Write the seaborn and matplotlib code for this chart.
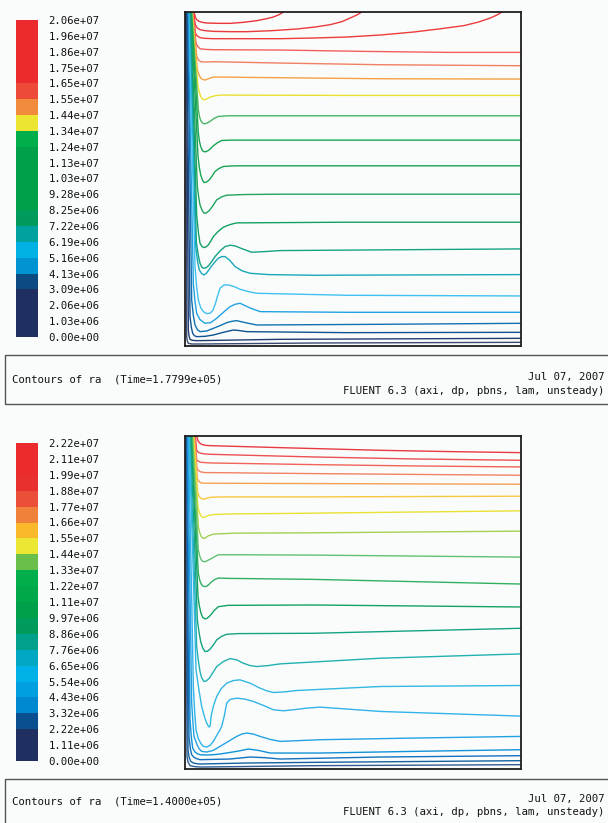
import numpy as np
import pandas as pd
import matplotlib
matplotlib.use("Agg")
import matplotlib.pyplot as plt
from matplotlib.colors import ListedColormap
from matplotlib.patches import Rectangle
import seaborn as sns

sns.set_theme(style="white")
plt.rcParams['font.family'] = ['DejaVu Sans Mono']

# ---------------- data: panel 1 (Time=1.7799e+05) ----------------
p1_labels = ["2.06e+07", "1.96e+07", "1.86e+07", "1.75e+07", "1.65e+07", "1.55e+07",
             "1.44e+07", "1.34e+07", "1.24e+07", "1.13e+07", "1.03e+07", "9.28e+06",
             "8.25e+06", "7.22e+06", "6.19e+06", "5.16e+06", "4.13e+06", "3.09e+06",
             "2.06e+06", "1.03e+06", "0.00e+00"]
p1_band_colors = ["#ec2b2f", "#ec2b2f", "#ec2b2f", "#ec2b2f", "#ee4a3a", "#f28a3c",
                  "#ece633", "#00ae4c", "#009f4a", "#009f4a", "#009f4a", "#009f4a",
                  "#009a5c", "#00a19e", "#00b1e3", "#0093d2", "#0b4b82", "#1f2f5f",
                  "#1f2f5f", "#1f2f5f"]
p1_line_colors = ["#e8343a", "#ea3a3c", "#ec3c3c", "#f0605a", "#f08062", "#f4a044",
                  "#e8e030", "#48b464", "#18a454", "#18a454", "#20a460", "#12a062",
                  "#14a284", "#18a8b8", "#40c0f0", "#22a2e2", "#1072b2", "#105292",
                  "#203c72", "#3a4a72"]
# radius (0..1007) and depth from top (0..1001) of each contour line
p1_r = [
    [27, 29, 31, 35, 42, 52, 65, 100, 135, 175, 215, 245, 265, 282, 295],
    [26, 28, 31, 36, 45, 60, 85, 135, 185, 260, 335, 390, 435, 470, 495, 515, 530],
    [25, 28, 31, 36, 45, 60, 85, 185, 285, 385, 485, 585, 685, 760, 835, 880, 915, 935, 950],
    [24, 29, 33, 38, 45, 60, 85, 285, 535, 785, 1007],
    [23, 30, 35, 40, 47, 60, 85, 285, 585, 1007],
    [22, 30, 37, 41, 47, 53, 60, 70, 85, 120, 185, 585, 1007],
    [21, 30, 39, 43, 47, 51, 55, 62, 75, 90, 105, 485, 1007],
    [20, 31, 40, 43, 47, 52, 57, 64, 75, 87, 100, 130, 185, 1007],
    [19, 30, 40, 43, 47, 51, 55, 62, 70, 77, 85, 97, 110, 140, 185, 1007],
    [18, 29, 39, 43, 47, 52, 57, 64, 73, 81, 90, 102, 115, 150, 235, 1007],
    [17, 27, 37, 41, 45, 51, 57, 64, 73, 84, 95, 110, 125, 180, 285, 1007],
    [16, 26, 35, 40, 45, 51, 57, 63, 70, 77, 85, 100, 115, 135, 155, 485, 1007],
    [15, 25, 34, 40, 45, 50, 55, 62, 70, 80, 90, 105, 120, 135, 150, 175, 200, 240, 285, 1007],
    [13, 23, 32, 38, 43, 50, 57, 65, 75, 87, 100, 110, 120, 135, 150, 172, 195, 250, 385, 1007],
    [11, 21, 30, 35, 40, 47, 55, 65, 75, 83, 90, 97, 105, 117, 130, 147, 165, 190, 215, 485, 1007],
    [9, 17, 25, 30, 35, 45, 60, 77, 95, 115, 135, 150, 165, 195, 225, 485, 1007],
    [7, 14, 20, 25, 30, 37, 45, 65, 85, 105, 125, 140, 155, 185, 215, 585, 1007],
    [5, 10, 15, 19, 23, 28, 35, 60, 85, 115, 145, 165, 185, 485, 1007],
    [3, 7, 10, 12, 15, 22, 35, 285, 1007],
    [2, 4, 5, 7, 10, 20, 45, 385, 1007],
]
p1_depth = [
    [0, 8, 16, 23, 28, 31, 33, 34, 34, 31, 26, 20, 15, 8, 0],
    [0, 20, 38, 47, 53, 56, 58, 59, 59, 56, 51, 45, 38, 29, 18, 9, 0],
    [0, 35, 63, 71, 77, 79, 80, 80, 80, 78, 75, 69, 60, 51, 41, 30, 18, 9, 0],
    [0, 50, 93, 103, 110, 112, 113, 114, 118, 121, 121],
    [0, 75, 133, 143, 149, 150, 149, 153, 158, 161],
    [0, 95, 173, 186, 198, 202, 204, 200, 195, 195, 196, 200, 201],
    [0, 120, 223, 240, 253, 259, 263, 262, 255, 251, 249, 250, 250],
    [0, 160, 293, 312, 325, 332, 335, 334, 328, 319, 313, 311, 311, 311],
    [0, 190, 363, 386, 403, 413, 418, 419, 415, 409, 401, 392, 385, 384, 384, 384],
    [0, 230, 433, 466, 488, 503, 511, 510, 503, 492, 478, 469, 463, 461, 461, 461],
    [0, 270, 523, 555, 578, 594, 603, 602, 595, 580, 563, 554, 549, 547, 546, 546],
    [0, 320, 610, 660, 693, 703, 706, 704, 698, 687, 673, 657, 645, 637, 632, 630, 630],
    [0, 360, 690, 730, 753, 764, 768, 767, 761, 748, 733, 716, 703, 699, 701, 711, 720, 718, 715, 710],
    [0, 360, 703, 750, 773, 784, 788, 782, 768, 752, 738, 733, 733, 745, 763, 776, 783, 787, 789, 787],
    [0, 390, 763, 825, 863, 886, 898, 904, 903, 895, 878, 853, 828, 818, 818, 823, 831, 838, 843, 849, 851],
    [0, 410, 813, 868, 903, 922, 933, 931, 918, 900, 883, 876, 873, 887, 898, 900, 900],
    [0, 430, 863, 910, 938, 952, 958, 956, 948, 940, 931, 927, 925, 932, 938, 936, 933],
    [0, 460, 913, 945, 963, 970, 973, 972, 968, 960, 953, 955, 958, 961, 960],
    [0, 480, 953, 970, 981, 984, 985, 981, 978],
    [0, 490, 973, 986, 993, 995, 995, 992, 990],
]
p1_caption = "Contours of ra  (Time=1.7799e+05)"

# ---------------- data: panel 2 (Time=1.4000e+05) ----------------
p2_labels = ["2.22e+07", "2.11e+07", "1.99e+07", "1.88e+07", "1.77e+07", "1.66e+07",
             "1.55e+07", "1.44e+07", "1.33e+07", "1.22e+07", "1.11e+07", "9.97e+06",
             "8.86e+06", "7.76e+06", "6.65e+06", "5.54e+06", "4.43e+06", "3.32e+06",
             "2.22e+06", "1.11e+06", "0.00e+00"]
p2_band_colors = ["#ec2b2f", "#ec2b2f", "#e8302f", "#ec4f39", "#f0813b", "#f9b92b",
                  "#ece733", "#6abf4b", "#00ae4c", "#00a84a", "#00a04a", "#009a5c",
                  "#00a08c", "#00a8c4", "#00b1e8", "#00a0e0", "#0088d0", "#0a5090",
                  "#1f2f5f", "#1f2f5f"]
p2_line_colors = ["#e83a40", "#ec5052", "#f0625a", "#f08262", "#f4a052", "#f8c842",
                  "#e8e232", "#a2d052", "#62c072", "#32b062", "#14a262", "#14a284",
                  "#22b0b2", "#32b8e2", "#32b2ea", "#22a2e2", "#1292d8", "#1272c0",
                  "#1262a2", "#325c92"]
p2_r = [
    [35, 37, 39, 44, 50, 60, 75, 180, 285, 435, 585, 800, 1007],
    [31, 33, 35, 40, 47, 60, 75, 230, 385, 535, 685, 1007],
    [29, 32, 35, 40, 47, 60, 75, 385, 685, 1007],
    [28, 32, 36, 41, 47, 60, 75, 385, 1007],
    [27, 32, 37, 42, 47, 60, 75, 385, 1007],
    [26, 32, 38, 41, 45, 49, 53, 60, 68, 80, 120, 385, 1007],
    [25, 32, 39, 43, 47, 51, 55, 62, 70, 85, 150, 285, 1007],
    [23, 32, 40, 44, 48, 52, 57, 63, 70, 85, 150, 385, 1007],
    [22, 31, 40, 44, 48, 52, 57, 63, 70, 80, 90, 100, 150, 385, 1007],
    [20, 30, 40, 44, 49, 54, 60, 66, 73, 80, 90, 100, 130, 385, 1007],
    [18, 29, 39, 43, 48, 53, 60, 66, 72, 77, 88, 100, 130, 385, 1007],
    [16, 27, 37, 42, 47, 53, 60, 67, 75, 85, 95, 110, 125, 160, 385, 1007],
    [14, 25, 35, 40, 45, 50, 57, 64, 73, 83, 95, 115, 135, 155, 175, 195, 215, 250, 285, 585, 1007],
    [12, 23, 33, 42, 50, 58, 65, 70, 73, 76, 78, 85, 95, 108, 125, 145, 165, 195, 225, 245, 265,
     300, 335, 585, 1007],
    [10, 18, 25, 29, 33, 40, 48, 55, 65, 75, 85, 95, 103, 110, 118, 125, 135, 155, 180, 205, 235,
     265, 295, 325, 365, 405, 585, 1007],
    [8, 14, 20, 24, 27, 35, 42, 50, 65, 85, 105, 130, 155, 170, 185, 205, 225, 255, 285, 405, 685, 1007],
    [6, 11, 15, 19, 23, 30, 37, 45, 65, 85, 105, 130, 155, 175, 190, 220, 255, 405, 685, 1007],
    [4, 8, 12, 16, 20, 27, 35, 45, 90, 135, 165, 195, 240, 285, 585, 1007],
    [3, 6, 9, 12, 17, 25, 35, 45, 185, 385, 1007],
    [2, 4, 6, 9, 15, 30, 45, 65, 385, 1007],
]
p2_depth = [
    [0, 8, 15, 21, 25, 28, 29, 32, 35, 39, 43, 47, 50],
    [0, 22, 43, 49, 52, 54, 55, 59, 63, 66, 69, 73],
    [0, 36, 71, 76, 79, 80, 81, 86, 90, 93],
    [0, 50, 98, 104, 108, 110, 110, 113, 118],
    [0, 65, 128, 136, 141, 142, 142, 143, 145],
    [0, 85, 168, 178, 185, 188, 190, 189, 186, 184, 183, 183, 181],
    [0, 110, 215, 229, 238, 243, 245, 243, 239, 236, 234, 233, 225],
    [0, 140, 273, 290, 301, 306, 308, 305, 300, 295, 292, 291, 286],
    [0, 170, 343, 360, 371, 376, 378, 377, 373, 368, 362, 357, 357, 358, 364],
    [0, 210, 413, 433, 446, 451, 453, 451, 445, 438, 431, 427, 428, 431, 445],
    [0, 240, 483, 511, 533, 545, 550, 548, 543, 538, 524, 513, 509, 508, 514],
    [0, 280, 553, 590, 618, 637, 648, 647, 641, 628, 613, 602, 596, 594, 593, 578],
    [0, 320, 633, 675, 708, 727, 738, 736, 728, 712, 693, 678, 669, 673, 683, 690, 693, 690, 685, 668, 655],
    [0, 350, 703, 765, 813, 843, 863, 872, 875, 868, 843, 812, 783, 760, 743, 735, 733, 743, 758, 766, 771,
     769, 765, 753, 750],
    [0, 380, 753, 830, 883, 910, 925, 933, 935, 930, 918, 900, 887, 873, 840, 803, 792, 788, 791, 798, 810,
     823, 826, 823, 818, 815, 828, 842],
    [0, 400, 803, 865, 903, 925, 940, 948, 950, 945, 933, 918, 903, 896, 893, 896, 903, 912, 918, 913, 908, 903],
    [0, 430, 853, 905, 938, 950, 955, 958, 959, 958, 956, 952, 948, 944, 941, 945, 953, 953, 948, 943],
    [0, 450, 903, 940, 958, 966, 970, 973, 972, 971, 968, 965, 967, 971, 965, 961],
    [0, 470, 943, 965, 978, 983, 985, 986, 983, 981, 976],
    [0, 480, 963, 980, 991, 994, 995, 995, 991, 988],
]
p2_caption = "Contours of ra  (Time=1.4000e+05)"

date_text = "Jul 07, 2007"
solver_text = "FLUENT 6.3 (axi, dp, pbns, lam, unsteady)"

for xs_list, ys_list in ((p1_r, p1_depth), (p2_r, p2_depth)):
    for xs, ys in zip(xs_list, ys_list):
        assert len(xs) == len(ys), (xs, ys)

# ---------------- drawing ----------------
W, H = 608, 823
BG = "#fafcfb"
FS = 7.65
fig = plt.figure(figsize=(W / 100, H / 100), dpi=100, facecolor=BG)


def fx(px):
    return px / W


def fy(py):
    return 1 - py / H


def draw_panel(box, cbar, labels, band_colors, line_colors, rr, dd, caption,
               cap_top, cap_bottom, cap_y, date_y, solver_y):
    # contour lines
    ax = fig.add_axes([fx(box[0]), fy(box[3]), fx(box[2] - box[0]), (box[3] - box[1]) / H])
    ax.set_facecolor(BG)
    rows = []
    for i, (xs, ys) in enumerate(zip(rr, dd)):
        for x, y in zip(xs, ys):
            rows.append({"line": f"c{i:02d}", "r": x, "depth": y})
    df = pd.DataFrame(rows)
    names = [f"c{i:02d}" for i in range(len(rr))]
    pal = dict(zip(names, line_colors))
    sns.lineplot(data=df, x="r", y="depth", hue="line", hue_order=names, palette=pal,
                 sort=False, estimator=None, legend=False, linewidth=1.0, ax=ax)
    ax.set_xlim(0, 1007)
    ax.set_ylim(1001, 0)
    ax.set_xticks([])
    ax.set_yticks([])
    ax.set_xlabel("")
    ax.set_ylabel("")
    for s in ax.spines.values():
        s.set_visible(True)
        s.set_color("#1e1e1e")
        s.set_linewidth(1.3)

    # colour legend
    cax = fig.add_axes([fx(cbar[0]), fy(cbar[3]), fx(cbar[2] - cbar[0]), (cbar[3] - cbar[1]) / H])
    n = len(band_colors)
    sns.heatmap(np.arange(n).reshape(-1, 1), cmap=ListedColormap(band_colors),
                vmin=-0.5, vmax=n - 0.5, cbar=False, ax=cax,
                xticklabels=False, yticklabels=False)
    cax.set_yticks(np.arange(n + 1))
    cax.set_yticklabels(labels, rotation=0, fontsize=FS, color="#111111")
    cax.yaxis.tick_right()
    cax.tick_params(axis="y", length=0, pad=7.5, right=False, left=False)
    cax.set_xticks([])
    cax.set_ylabel("")

    # caption box (extends past the right edge of the picture)
    fig.add_artist(Rectangle((fx(5), fy(cap_bottom)), fx(620 - 5), (cap_bottom - cap_top) / H,
                             transform=fig.transFigure, fill=False, ec="#555555", lw=1.0))
    fig.text(fx(12), fy(cap_y), caption, ha="left", va="center", fontsize=FS, color="#111111")
    fig.text(fx(604), fy(date_y), date_text, ha="right", va="center", fontsize=FS, color="#111111")
    fig.text(fx(604), fy(solver_y), solver_text, ha="right", va="center", fontsize=FS, color="#111111")


draw_panel(box=(185, 12, 521, 346), cbar=(16, 20, 38, 337),
           labels=p1_labels, band_colors=p1_band_colors, line_colors=p1_line_colors,
           rr=p1_r, dd=p1_depth, caption=p1_caption,
           cap_top=355, cap_bottom=404, cap_y=379, date_y=377, solver_y=391)
draw_panel(box=(185, 436, 521, 769), cbar=(16, 443, 38, 761),
           labels=p2_labels, band_colors=p2_band_colors, line_colors=p2_line_colors,
           rr=p2_r, dd=p2_depth, caption=p2_caption,
           cap_top=779, cap_bottom=830, cap_y=802, date_y=799, solver_y=812)

fig.savefig("out.png", dpi=100, facecolor=BG)
